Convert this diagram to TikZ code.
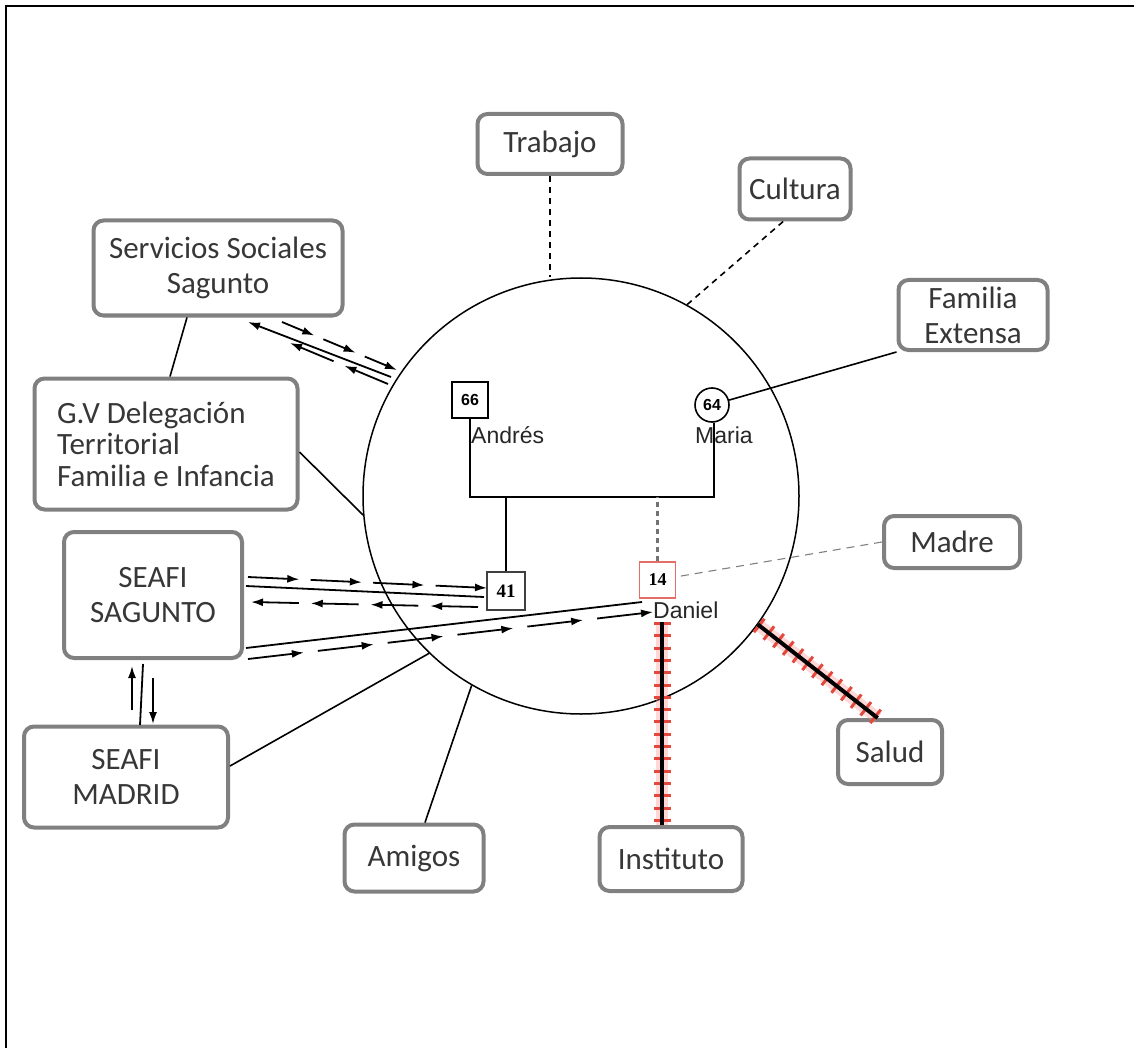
\documentclass[tikz,border=0pt]{standalone}
\usepackage{fontspec}
\setmainfont{Carlito}
\newfontfamily\arialfont{Liberation Sans}
\newfontfamily\serifnum{Liberation Serif}
\usetikzlibrary{arrows.meta,calc}

\definecolor{boxgray}{RGB}{128,128,128}
\definecolor{boxtext}{RGB}{55,55,55}
\definecolor{tickred}{RGB}{228,72,60}
\definecolor{sonred}{RGB}{226,110,100}

% a run of short arrows from #1 to #2: #3 pieces, each filling #4 of its period
\newcommand\arrowtrain[4]{%
  \foreach \k in {1,...,#3}{%
    \draw[flow,-{Latex[length=12,width=8]}]
      ($(#1)!{(\k-1)/(#3-1+#4)}!(#2)$) -- ($(#1)!{(\k-1+#4)/(#3-1+#4)}!(#2)$);}}

\begin{document}
\begin{tikzpicture}[x=1pt,y=-1pt,
  box/.style={draw=boxgray, line width=4, rounded corners=10, fill=white,
    text=boxtext, font=\fontsize{31}{35}\selectfont, align=center, inner sep=0},
  sq/.style={draw, line width=1.8, minimum size=36, inner sep=0,
    font=\arialfont\bfseries\fontsize{16}{16}\selectfont},
  lbl/.style={inner sep=0, text=black!85, font=\arialfont\fontsize{23}{27}\selectfont},
  flow/.style={line width=1.8, black},
  tie/.style={line width=1.6, black},
  weak/.style={line width=1.6, black, dash pattern=on 6 off 5},
  hatch/.style={line width=4, black,
    preaction={draw=red!45, line width=12, opacity=0.35},
    preaction={draw=tickred, line width=17, dash pattern=on 3 off 9.3}}]

\useasboundingbox (0,0) rectangle (1134,1048);
\draw[line width=2] (6,1048) -- (6,6) -- (1134,6);

% the family circle
\node[circle, draw, line width=1.5, minimum size=436, inner sep=0] (eco) at (581,496) {};

% surrounding systems
\node[box, minimum width=145, minimum height=60] (trabajo) at (550,144) {Trabajo};
\node[box, minimum width=111, minimum height=61] (cultura) at (795,189) {Cultura};
\node[box, minimum width=249, minimum height=95] (servicios) at (218,268) {Servicios Sociales\\Sagunto};
\node[box, minimum width=149, minimum height=70] (familia) at (973,315) {Familia\\Extensa};
\node[box, minimum width=263, minimum height=131, align=left,
  font=\fontsize{31}{31.5}\selectfont] (gv) at (166,444) {G.V Delegación\\Territorial\\Familia e Infancia};
\node[box, minimum width=136, minimum height=52] (madre) at (952,542) {Madre};
\node[box, minimum width=178, minimum height=126] (seafis) at (153,595) {SEAFI\\SAGUNTO};
\node[box, minimum width=204, minimum height=101] (seafim) at (126,777) {SEAFI\\MADRID};
\node[box, minimum width=104, minimum height=64] (salud) at (890,752) {Salud};
\node[box, minimum width=139, minimum height=67] (amigos) at (414,858) {Amigos};
\node[box, minimum width=143, minimum height=64] (instituto) at (671,859) {Instituto};

% genogram inside the circle
\node[sq] (andres) at (470,400) {66};
\node[circle, draw, line width=1.6, minimum size=34, inner sep=0,
  font=\arialfont\bfseries\fontsize{16}{16}\selectfont] (maria) at (712,405) {64};
\node[sq, draw=black!75, minimum size=38, font=\serifnum\bfseries\fontsize{19}{19}\selectfont] (hijo) at (506,591) {41};
\node[sq, draw=sonred, line width=1.5, font=\serifnum\bfseries\fontsize{18}{18}\selectfont] (daniel) at (657.5,580) {14};
\node[lbl, anchor=base west] (andreslbl) at (471,443) {Andrés};
\node[lbl, anchor=base west] (marialbl) at (695,443) {Maria};
\node[lbl, anchor=base west] (daniellbl) at (653,618) {Daniel};

\coordinate (bl) at (470,497);
\coordinate (br) at (714,497);
\draw[tie] (andres.south) -- (bl) -- (br) -- (br |- maria.south);
\draw[tie] (hijo.north) -- (hijo.north |- bl);
\draw[black!55, line width=2.2, dash pattern=on 5 off 4] (daniel.north) -- (daniel.north |- bl);

% ties to the outside systems
\draw[weak] (trabajo.south) -- (trabajo.south |- eco.north);
\draw[weak] (cultura.-110) -- (eco.61.7);
\draw[tie] (familia.south west) -- (maria);
\draw[tie] ($(servicios.south)+(-31,0)$) -- ($(gv.north)+(4,0)$);
\draw[tie] ($(gv.east)+(0,8)$) -- (eco.185);
\draw[boxgray, line width=1.1, dash pattern=on 8 off 6] (madre.west) -- (daniel);
\draw[tie] ($(seafim.east)+(0,-11)$) -- (eco.226.9);
\draw[tie] ($(amigos.north)+(11,0)$) -- (eco.240.7);

% stressful ties
\coordinate (dtop) at (662,622);
\draw[hatch] (dtop) -- (dtop |- instituto.north);
\draw[hatch] (eco.-36.7) -- (salud.110);

% flows with Servicios Sociales
\coordinate (ssa) at (282,322); \coordinate (ssb) at (397,370);
\arrowtrain{ssa}{ssb}{3}{0.78}
\coordinate (ssc) at (391,377); \coordinate (ssd) at (248,322);
\draw[flow,-{Latex[length=12,width=8]}] (ssc) -- (ssd);
\coordinate (sse) at (388,384); \coordinate (ssf) at (290,343);
\arrowtrain{sse}{ssf}{2}{0.8}

% flows between SEAFI Sagunto and the family
\coordinate (s41a) at (248,577); \coordinate (s41b) at (487,588);
\arrowtrain{s41a}{s41b}{4}{0.82}
\coordinate (s41c) at (246,586); \coordinate (s41d) at (484,597);
\draw[flow] (s41c) -- (s41d);
\coordinate (s41e) at (478,607); \coordinate (s41f) at (251,602);
\arrowtrain{s41e}{s41f}{4}{0.8}
\coordinate (sd1a) at (246,648); \coordinate (sd1b) at (642,602);
\draw[flow] (sd1a) -- (sd1b);
\coordinate (sd2a) at (248,659); \coordinate (sd2b) at (653,612);
\arrowtrain{sd2a}{sd2b}{6}{0.8}

% flows between the two SEAFI teams
\coordinate (v1a) at (132,710); \coordinate (v1b) at (132,666);
\draw[flow,-{Latex[length=12,width=8]}] (v1a) -- (v1b);
\coordinate (v2a) at (143,664); \coordinate (v2b) at (140,725);
\draw[flow] (v2a) -- (v2b);
\coordinate (v3a) at (153,678); \coordinate (v3b) at (153,724);
\draw[flow,-{Latex[length=12,width=8]}] (v3a) -- (v3b);
\end{tikzpicture}
\end{document}
